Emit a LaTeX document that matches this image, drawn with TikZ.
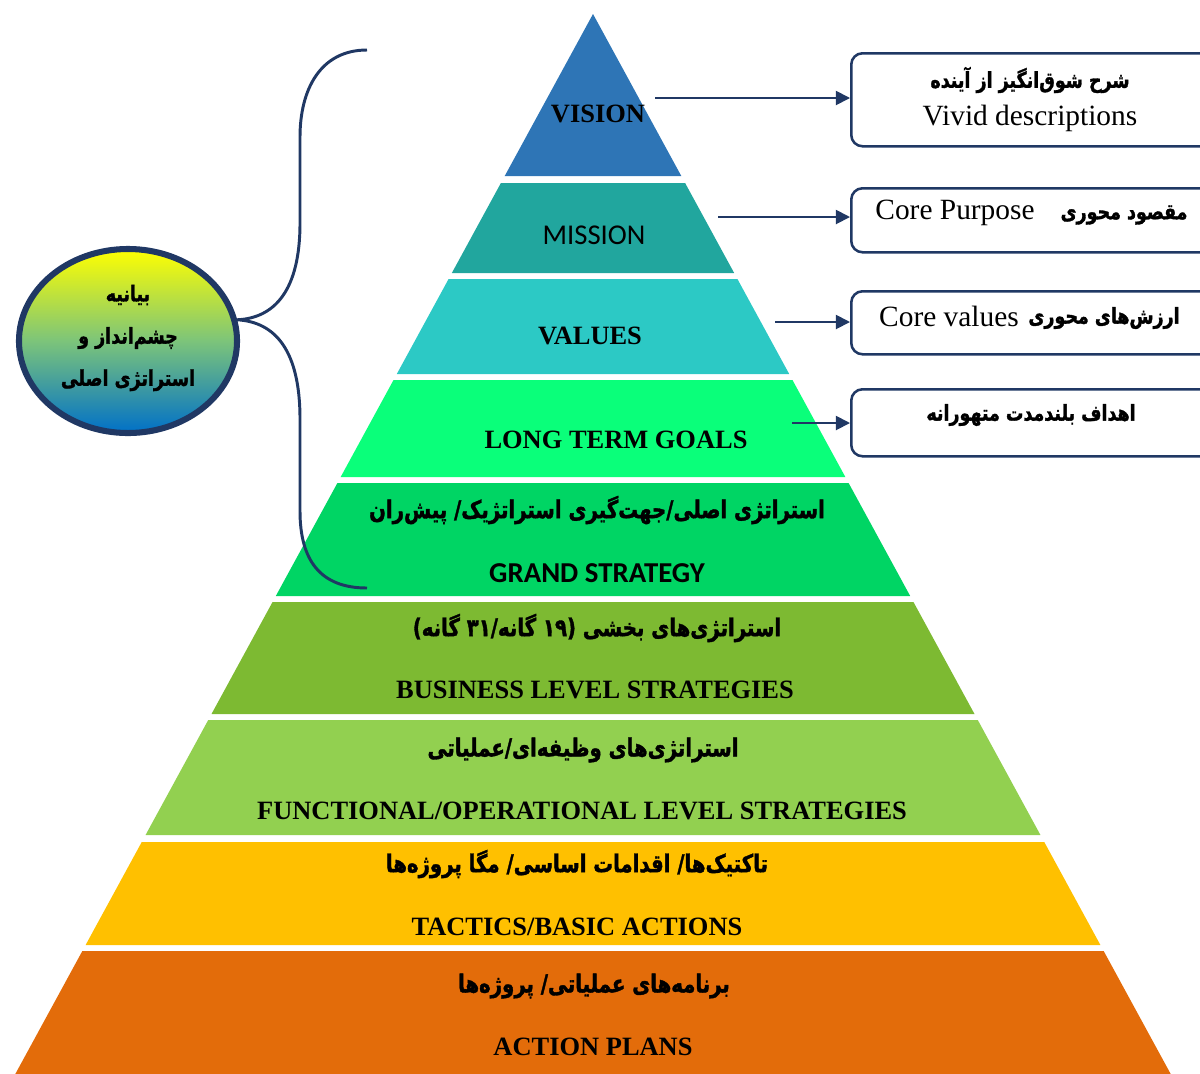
\documentclass[tikz,border=0pt]{standalone}
\usepackage{fontspec}
\setmainfont{Liberation Serif}
\newfontfamily\calibri{Carlito}
\newfontfamily\fafont[Script=Arabic,FakeStretch=0.8,BoldFeatures={FakeBold=1.5}]{DejaVu Sans}
\TeXXeTstate=1
\usetikzlibrary{shapes.geometric,arrows.meta}
\definecolor{navy}{HTML}{203864}
\definecolor{visionblue}{HTML}{2E75B6}
\definecolor{missionteal}{HTML}{21A69E}
\definecolor{valuesteal}{HTML}{2CC9C5}
\definecolor{goalsgreen}{HTML}{0AFF7A}
\definecolor{grandgreen}{HTML}{00D564}
\definecolor{businessgreen}{HTML}{7DBA32}
\definecolor{functionalgreen}{HTML}{92D050}
\definecolor{tacticsyellow}{HTML}{FFC000}
\definecolor{actionorange}{HTML}{E36C0A}
\definecolor{ellgreen}{HTML}{7CC47A}
\definecolor{ellblue}{HTML}{0070C8}
\begin{document}
\begin{tikzpicture}[x=0.025cm,y=-0.025cm,
	title/.style={font=\bfseries\fontsize{18.8}{20}\selectfont},
	calibri/.style={font=\calibri\fontsize{20.4}{22}\selectfont},
	calibrib/.style={font=\calibri\bfseries\fontsize{20.5}{22}\selectfont},
	fatext/.style={font=\fafont\bfseries\fontsize{17.5}{20}\selectfont},
	fabox/.style={font=\fafont\bfseries\fontsize{15.5}{30}\selectfont},
	boxtext/.style={font=\fontsize{20.9}{22}\selectfont},
	infobox/.style={shape=rectangle,rounded corners=8pt,draw=navy,line width=1.8pt,fill=white,anchor=north west,minimum width=9cm},
	arr/.style={-{Triangle[length=10pt,width=10pt]},line width=1.3pt,draw=navy}]
	\useasboundingbox (0,0) rectangle (1200,1073);
	\clip (0,0) rectangle (1200,1073);

	\foreach \ya/\yb/\lc in {14/176/visionblue,183/273/missionteal,279/374/valuesteal,380/477/goalsgreen,483/596/grandgreen,602/714/businessgreen,720/835/functionalgreen,842/945/tacticsyellow,951/1080/actionorange}
		\fill[fill=\lc] ({593-0.545*(\ya-14)},\ya) -- ({593+0.545*(\ya-14)},\ya) -- ({593+0.545*(\yb-14)},\yb) -- ({593-0.545*(\yb-14)},\yb) -- cycle;

	\node (vision) at (598,114)[title] {VISION};
	\node (mission) at (594,235)[calibri] {MISSION};
	\node (values) at (590,336)[title] {VALUES};
	\node (goals) at (616,440)[title] {LONG TERM GOALS};
	\node (grandFa) at (597,510)[fatext] {\beginR استراتژی اصلی/جهت‌گیری استراتژیک/ پیش‌ران\endR};
	\node (grand) at (597,573)[calibrib] {GRAND STRATEGY};
	\node (businessFa) at (597,628)[fatext] {\beginR استراتژی‌های بخشی (۱۹ گانه/۳۱ گانه)\endR};
	\node (business) at (595,690)[title] {BUSINESS LEVEL STRATEGIES};
	\node (functionalFa) at (583,750)[fatext] {\beginR استراتژی‌های وظیفه‌ای/عملیاتی\endR};
	\node (functional) at (582,811)[title] {FUNCTIONAL/OPERATIONAL LEVEL STRATEGIES};
	\node (tacticsFa) at (577,864)[fatext] {\beginR تاکتیک‌ها/ اقدامات اساسی/ مگا پروژه‌ها\endR};
	\node (tactics) at (577,927)[title] {TACTICS/BASIC ACTIONS};
	\node (actionFa) at (594,986)[fatext] {\beginR برنامه‌های عملیاتی/ پروژه‌ها\endR};
	\node (action) at (593,1047)[title] {ACTION PLANS};

	\node (vivid) at (850,52)[infobox,minimum height=2.325cm] {};
	\node (purpose) at (850,187)[infobox,minimum height=1.6cm] {};
	\node (core) at (850,290)[infobox,minimum height=1.575cm] {};
	\node (bold) at (850,388)[infobox,minimum height=1.675cm] {};
	\node (vividFa) at (1030,80)[fabox] {\beginR شرح شوق‌انگیز از آینده\endR};
	\node (vividEn) at (1030,118)[boxtext] {Vivid descriptions};
	\node (purposeEn) at (955,213)[boxtext] {Core Purpose};
	\node (purposeFa) at (1124,215)[fabox] {\beginR مقصود محوری\endR};
	\node (coreEn) at (949,316)[boxtext] {Core values};
	\node (coreFa) at (1104,318)[fabox] {\beginR ارزش‌های محوری\endR};
	\node (boldFa) at (1031,415)[fabox] {\beginR اهداف بلندمدت متهورانه\endR};

	\coordinate (visionEnd) at (655,98);
	\coordinate (missionEnd) at (718,217);
	\coordinate (valuesEnd) at (775,322);
	\coordinate (goalsEnd) at (792,423);
	\draw[arr] (visionEnd) -- (visionEnd -| vivid.west);
	\draw[arr] (missionEnd) -- (missionEnd -| purpose.west);
	\draw[arr] (valuesEnd) -- (valuesEnd -| core.west);
	\draw[arr] (goalsEnd) -- (goalsEnd -| bold.west);

	\node (statement) at (128,341)[shape=ellipse,minimum width=5.45cm,minimum height=4.6cm,draw=navy,line width=4.3pt,top color=yellow,bottom color=ellblue,middle color=ellgreen] {};
	\node (statementFa) at (128,338)[fabox,align=center] {\beginR بیانیه\endR\\ \beginR چشم‌انداز و\endR\\ \beginR استراتژی اصلی\endR};
	\coordinate (braceTop) at (367,50);
	\coordinate (braceBot) at (367,588);
	\draw[navy,line width=2.1pt] (braceTop) .. controls (320,50) and (300,90) .. (300,137) -- (300,223) .. controls (300,290) and (275,318) .. (statement.11) .. controls (275,322) and (300,350) .. (300,419) -- (300,511) .. controls (300,560) and (320,588) .. (braceBot);
\end{tikzpicture}
\end{document}
